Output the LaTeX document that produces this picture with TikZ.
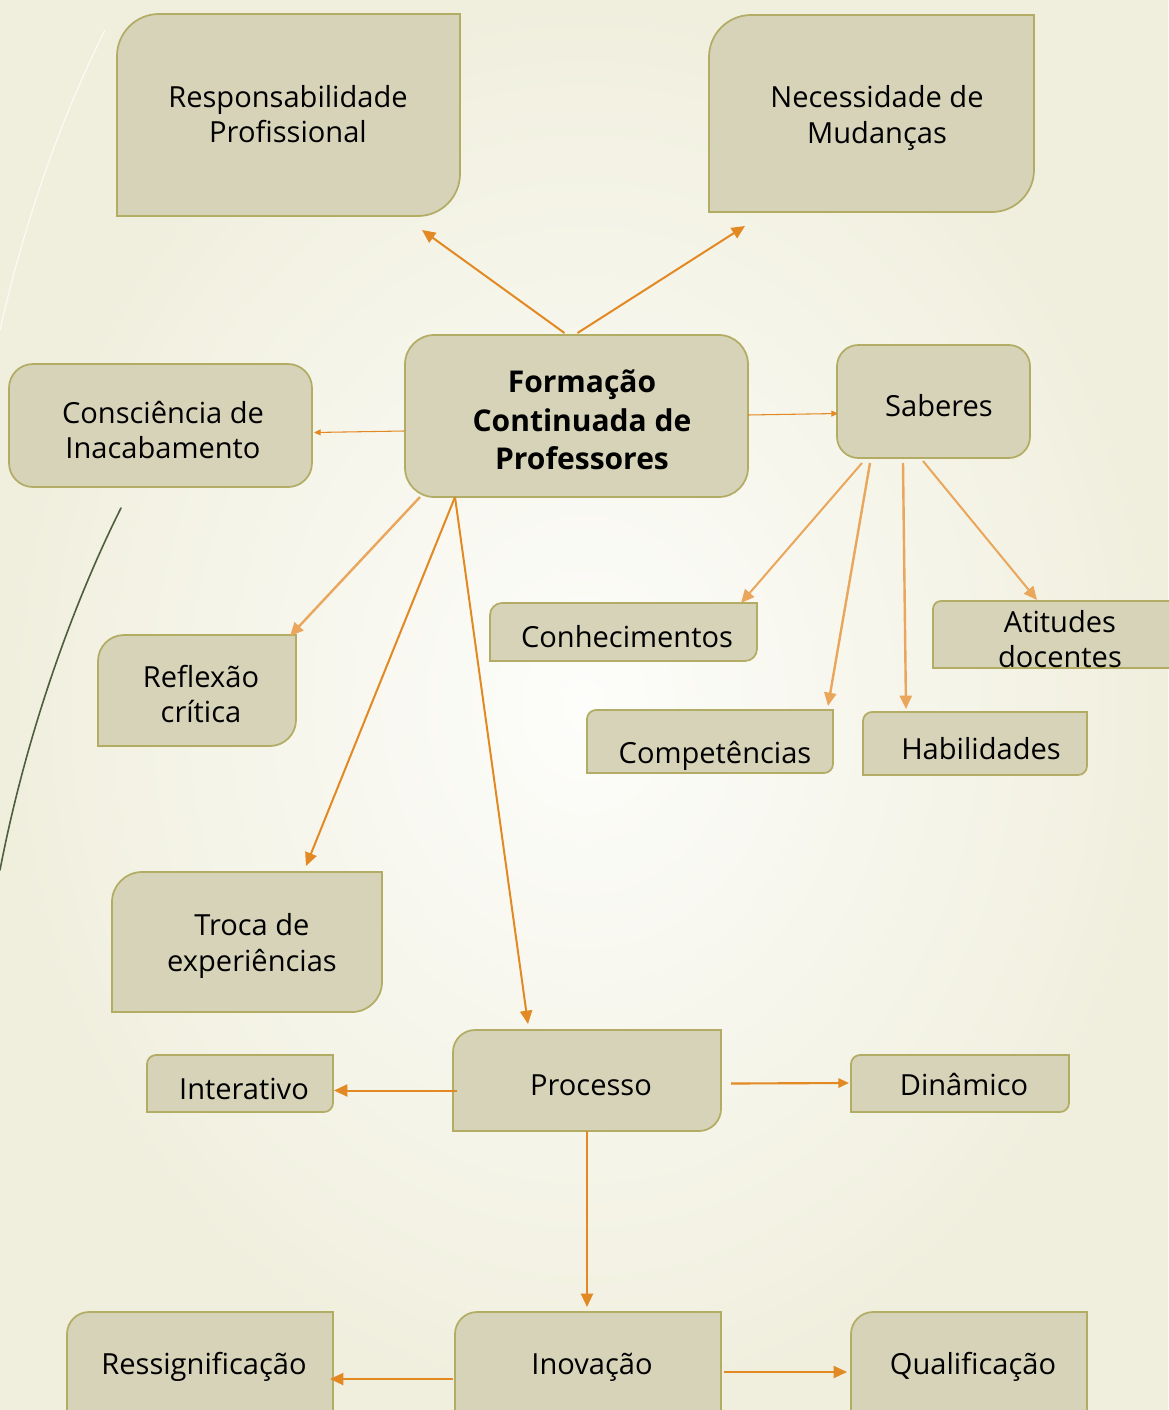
\documentclass[tikz,border=0pt]{standalone}
\usepackage{fontspec}
\setmainfont{Open Sans}
\usetikzlibrary{arrows.meta,calc,fit}
\definecolor{bgc}{RGB}{240,239,222}
\definecolor{bgin}{RGB}{253,253,251}
\definecolor{boxf}{RGB}{214,211,185}
\definecolor{boxd}{RGB}{178,172,100}
\definecolor{arrc}{RGB}{227,137,35}
\definecolor{leaf}{RGB}{78,94,62}
\tikzset{
  boxfill/.style={fill=boxf,draw=boxd,line width=1.3pt},
  fitn/.style={inner sep=0pt,outer sep=0pt},
  txt/.style={align=center,font=\fontsize{21.8}{26.5}\selectfont,inner sep=0pt},
  bigtxt/.style={align=center,font=\fontsize{22.5}{29}\selectfont\bfseries,inner sep=0pt},
  arr/.style={draw=arrc,line width=1.5pt,-{Triangle[length=10pt,width=9pt]}},
  midarr/.style={draw=arrc,line width=1.6pt,-{Triangle[length=8pt,width=7pt]}},
  thinarr/.style={draw=arrc,line width=0.8pt,-{Triangle[length=5pt,width=4.5pt]}},
  softarr/.style={draw=arrc!75,line width=1.8pt,-{Triangle[length=10pt,width=9pt]}}
}
% diagonal-rounded box: name, x1, y1, x2, y2, r
\newcommand\mkdbox[6]{%
  \path[boxfill] (#2,#5) -- (#2,#3+#6) .. controls (#2,#3+0.45*#6) and (#2+0.45*#6,#3) .. (#2+#6,#3)
     -- (#4,#3) -- (#4,#5-#6) .. controls (#4,#5-0.45*#6) and (#4-0.45*#6,#5) .. (#4-#6,#5) -- cycle;
  \path (#2,#3) coordinate (#1-a) (#4,#5) coordinate (#1-b);
  \node[fitn,fit=(#1-a)(#1-b)] (#1) {};
}
% all-round box: name, x1, y1, x2, y2, r(pt)
\newcommand\mkrbox[6]{%
  \path[boxfill,rounded corners=#6] (#2,#3) rectangle (#4,#5);
  \path (#2,#3) coordinate (#1-a) (#4,#5) coordinate (#1-b);
  \node[fitn,fit=(#1-a)(#1-b)] (#1) {};
}
\begin{document}
\begin{tikzpicture}[x=0.75pt,y=-0.75pt]
\useasboundingbox (0,0) rectangle (1168,1410);
\shade[inner color=bgin,outer color=bgc] (0,0) rectangle (1168,1410);
% decorative strokes
\draw[white!80!bgc,line width=0.8pt] (105,30) .. controls (60,120) and (25,220) .. (0,330);
\draw[leaf,line width=1.2pt,line cap=round] (121,508) .. controls (70,610) and (25,740) .. (0,870);

% boxes
\mkdbox{resp}{117}{14}{460}{216}{42}
\mkdbox{nec}{709}{15}{1034}{212}{42}
\mkrbox{cen}{405}{335}{748}{497}{22pt}
\mkrbox{cons}{9}{364}{312}{487}{18pt}
\mkrbox{sab}{837}{345}{1030}{458}{16pt}
\mkdbox{refl}{98}{635}{296}{746}{26}
\mkdbox{conh}{490}{603}{757}{661}{12}
\mkdbox{atit}{933}{601}{1190}{668}{8}
\mkdbox{comp}{587}{710}{833}{773}{9}
\mkdbox{habi}{863}{712}{1087}{775}{9}
\mkdbox{troca}{112}{872}{382}{1012}{30}
\mkdbox{proc}{453}{1030}{721}{1131}{22}
\mkdbox{inter}{147}{1055}{333}{1112}{9}
\mkdbox{dina}{851}{1055}{1069}{1112}{9}
\mkdbox{ress}{67}{1312}{333}{1445}{22}
\mkdbox{inov}{455}{1312}{721}{1445}{22}
\mkdbox{qual}{851}{1312}{1087}{1445}{22}

% texts
\node[txt] (resp-t) at (288,114) {Responsabilidade\\Profissional};
\node[txt] (nec-t) at (877,118) {Necessidade de\\Mudanças};
\node[bigtxt] (cen-t) at (582,420) {Formação\\Continuada de\\Professores};
\node[txt] (cons-t) at (163,430) {Consciência de\\Inacabamento};
\node[txt] (sab-t) at (939,406) {Saberes};
\node[txt] (refl-t) at (201,694) {Reflexão\\crítica};
\node[txt] (conh-t) at (627,637) {Conhecimentos};
\node[txt] (atit-t) at (1060,639) {Atitudes\\docentes};
\node[txt] (comp-t) at (715,756) {Competências};
\node[txt] (habi-t) at (981,749) {Habilidades};
\node[txt] (troca-t) at (252,946) {Troca de\\experiências};
\node[txt] (proc-t) at (591,1085) {Processo};
\node[txt] (inter-t) at (244,1089) {Interativo};
\node[txt] (dina-t) at (964,1084) {Dinâmico};
\node[txt] (ress-t) at (204,1367) {Ressignificação};
\node[txt] (inov-t) at (592,1367) {Inovação};
\node[txt] (qual-t) at (973,1367) {Qualificação};

% connectors
\draw[arr] ($(cen.north)+(-12,-2)$) -- ($(resp.south east)+(-38,14)$);
\draw[arr] ($(cen.north)+(1,-2)$) -- ($(nec.south west)+(36,14)$);
\draw[thinarr] ($(cen.west)+(-1,15)$) -- ($(cons.east)+(2,7)$);
\draw[thinarr] ($(cen.east)+(0,-1)$) -- ($(sab.west)+(1,12)$);
\draw[softarr] ($(cen.south west)+(15,0)$) -- ($(refl.north east)+(-6,1)$);
\draw[arr] ($(cen.south west)+(50,0)$) -- ($(troca.north west)+(194,-6)$);
\draw[arr] ($(cen.south west)+(50,0)$) -- ($(proc.north west)+(75,-6)$);
\draw[softarr,line width=1.5pt] ($(sab.south west)+(25,5)$) -- ($(conh.north east)+(-16,0)$);
\draw[softarr] ($(sab.south west)+(33,5)$) -- ($(comp.north east)+(-5,-4)$);
\draw[softarr] ($(sab.south west)+(66,5)$) -- ($(habi.north west)+(43,-3)$);
\draw[softarr,line width=1.5pt] ($(sab.south west)+(86,3)$) -- ($(atit.north west)+(104,-1)$);
\draw[arr] ($(proc.west)+(4,10)$) -- ($(inter.east)+(1,7)$);
\draw[midarr] ($(proc.east)+(10,3)$) -- ($(dina.west)+(-2,-0.5)$);
\draw[arr] ($(proc.south west)+(134,0)$) -- ($(inov.north west)+(132,-5)$);
\draw[arr] ($(inov.north west)+(-2,67)$) -- ($(ress.north east)+(-3,67)$);
\draw[arr] ($(inov.north east)+(3,60)$) -- ($(qual.north west)+(-4,60)$);
\end{tikzpicture}
\end{document}
